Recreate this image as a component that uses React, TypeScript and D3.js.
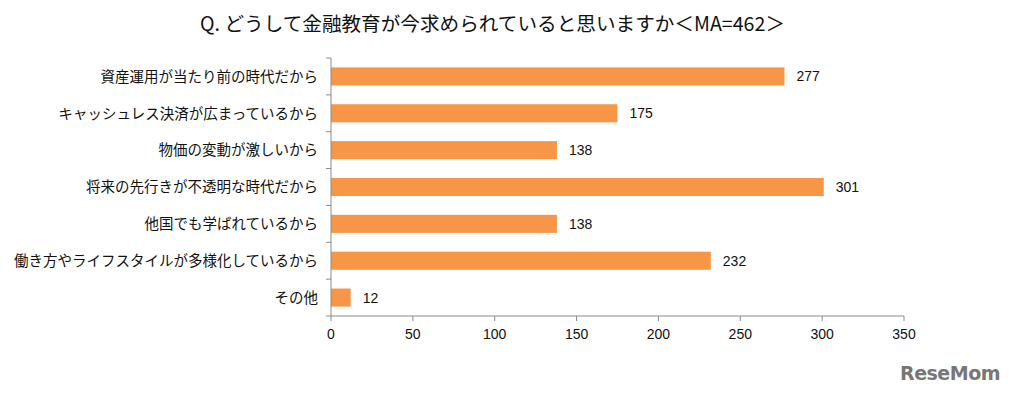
import React from "react";
import * as d3 from "d3";

const categories = [
  "資産運用が当たり前の時代だから",
  "キャッシュレス決済が広まっているから",
  "物価の変動が激しいから",
  "将来の先行きが不透明な時代だから",
  "他国でも学ばれているから",
  "働き方やライフスタイルが多様化しているから",
  "その他",
];
const values = [277, 175, 138, 301, 138, 232, 12];
const xTicks = [0, 50, 100, 150, 200, 250, 300, 350];
const title = "Q. どうして金融教育が今求められていると思いますか＜MA=462＞";

const W = 1012;
const H = 393;
const jp = '"Noto Sans CJK JP", "Noto Sans", sans-serif';
const num = '"Liberation Sans", Arial, sans-serif';

export default function App() {
  const top = 58;
  const bottom = 316;
  const x = d3.scaleLinear().domain([0, 350]).range([331, 904]);
  const y = d3
    .scaleBand<string>()
    .domain(categories)
    .range([top, bottom])
    .paddingInner(0.51)
    .paddingOuter(0.255);
  const boundaries = d3.range(categories.length + 1).map((i) => top + ((bottom - top) / categories.length) * i);
  const axisColor = "#8a8a8a";
  return (
    <svg width={W} height={H} style={{ position: "absolute", left: 0, top: 0, background: "#fff" }}>
      <text
        x={200}
        y={31}
        fontFamily={jp}
        fontSize={19.5}
        fill="#111"
        textLength={585}
        lengthAdjust="spacingAndGlyphs"
      >
        {title}
      </text>
      {categories.map((c, i) => (
        <g key={c}>
          <rect x={x(0)} y={y(c)!} width={x(values[i]) - x(0)} height={y.bandwidth()} fill="#F79646" />
          <text
            x={318}
            y={y(c)! + y.bandwidth() / 2}
            dy="0.36em"
            textAnchor="end"
            fontFamily={jp}
            fontSize={14.5}
            fill="#111"
          >
            {c}
          </text>
          <text
            x={x(values[i]) + 12}
            y={y(c)! + y.bandwidth() / 2}
            dy="0.36em"
            fontFamily={num}
            fontSize={14}
            fill="#111"
          >
            {values[i]}
          </text>
        </g>
      ))}
      <line x1={331} x2={331} y1={top} y2={bottom} stroke={axisColor} />
      {boundaries.map((b, i) => (
        <line key={i} x1={326} x2={331} y1={b} y2={b} stroke={axisColor} />
      ))}
      <line x1={331} x2={904} y1={bottom} y2={bottom} stroke={axisColor} />
      {xTicks.map((t) => (
        <g key={t}>
          <line x1={x(t)} x2={x(t)} y1={bottom} y2={bottom + 5} stroke={axisColor} />
          <text x={x(t)} y={339} textAnchor="middle" fontFamily={num} fontSize={14} fill="#111">
            {t}
          </text>
        </g>
      ))}
      <text
        x={1000}
        y={380}
        textAnchor="end"
        fontFamily={'"DejaVu Sans", sans-serif'}
        fontWeight="bold"
        fontSize={19}
        fill="#777"
        letterSpacing={-0.5}
      >
        ReseMom
      </text>
    </svg>
  );
}
